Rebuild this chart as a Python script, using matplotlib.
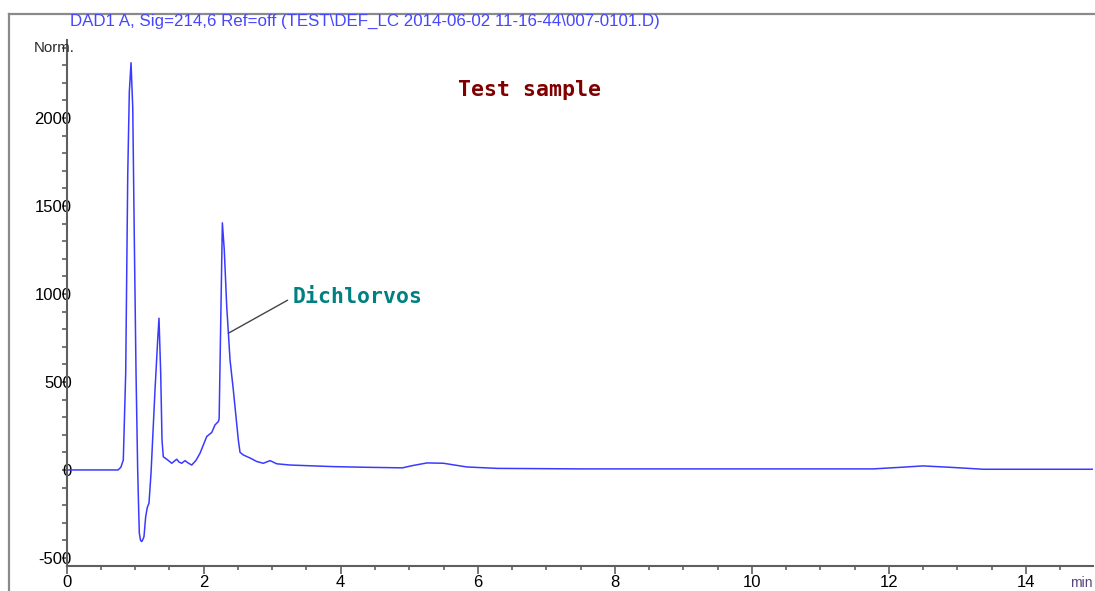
"""
plot.py - chromatogramme DAD1 A (Test sample, Dichlorvos)
Usage : python plot.py
"""

import matplotlib
matplotlib.use("Agg")
import matplotlib.pyplot as plt
from matplotlib.lines import Line2D
from matplotlib.ticker import MultipleLocator

# Couleurs
TRACE   = "#3a3aff"
TITLE   = "#4646ff"
SPINE   = "#5f5f5f"
FRAME   = "#8a8a8a"
RED     = "#800000"
TEAL    = "#008080"
UNIT    = "#5a4478"

# Temps de rétention (min) et signal (mAU)
temps = [0.0, 0.75, 0.79, 0.826, 0.861, 0.891, 0.914, 0.939, 0.964, 0.987,
         1.012, 1.036, 1.048, 1.060, 1.078, 1.095, 1.112, 1.128, 1.153, 1.177,
         1.201, 1.231, 1.289, 1.328, 1.347, 1.372, 1.391, 1.410, 1.464, 1.533,
         1.606, 1.639, 1.679, 1.727, 1.771, 1.825, 1.888, 1.946, 2.044, 2.117,
         2.165, 2.213, 2.225, 2.272, 2.300, 2.336, 2.360, 2.384, 2.432, 2.505,
         2.530, 2.578, 2.676, 2.774, 2.870, 2.968, 3.066, 3.26, 3.89, 4.40,
         4.90, 5.05, 5.26, 5.50, 5.84, 6.28, 7.5, 9.0, 10.7, 11.77, 12.17,
         12.50, 12.90, 13.38, 14.2, 14.98]
signal = [0, 0, 15, 56, 548, 1678, 2147, 2314, 2060, 1307,
          550, 0, -190, -360, -400, -407, -395, -379, -265, -212,
          -189, -17, 455, 739, 862, 551, 170, 75, 60, 38,
          61, 45, 38, 53, 40, 28, 55, 95, 190, 213,
          256, 275, 290, 1404, 1250, 927, 777, 625, 455, 170,
          100, 85, 68, 48, 38, 53, 35, 28, 19, 15,
          12, 25, 40, 38, 17, 9, 6, 6, 6, 6, 15,
          23, 15, 4, 4, 4]

x_ticks = [0, 2, 4, 6, 8, 10, 12, 14]
y_ticks = [-500, 0, 500, 1000, 1500, 2000]

titre = "DAD1 A, Sig=214,6 Ref=off (TEST\\DEF_LC 2014-06-02 11-16-44\\007-0101.D)"

plt.rcParams.update({
    "font.family": ["Liberation Sans", "DejaVu Sans"],
    "figure.facecolor": "white",
    "axes.facecolor": "none",
    "axes.unicode_minus": False,
})

W, H = 1095, 591
fig = plt.figure(figsize=(W / 100, H / 100), dpi=100)

# Cadre gris autour du graphe
fx, fy = 9 / W, 1 - 14 / H
fig.add_artist(Line2D([fx, fx], [-0.05, fy], transform=fig.transFigure,
                      color=FRAME, lw=1.6, clip_on=False))
fig.add_artist(Line2D([fx, 1.05], [fy, fy], transform=fig.transFigure,
                      color=FRAME, lw=1.6, clip_on=False))

left, right = 66.7 / W, 1093 / W
bottom, top = 1 - 565.7 / H, 1 - 40 / H
ax = fig.add_axes([left, bottom, right - left, top - bottom])

ax.plot(temps, signal, color=TRACE, lw=1.1, zorder=3)

ax.set_xlim(0, 14.98)
ax.set_ylim(-544, 2443)
ax.set_xticks(x_ticks)
ax.set_yticks(y_ticks)
ax.xaxis.set_minor_locator(MultipleLocator(0.5))
ax.yaxis.set_minor_locator(MultipleLocator(100))

for s in ["top", "right"]:
    ax.spines[s].set_visible(False)
for s in ["left", "bottom"]:
    ax.spines[s].set_color(SPINE)
    ax.spines[s].set_linewidth(1.5)

ax.tick_params(axis="x", which="major", direction="out", length=5.8, width=1.2,
               color=SPINE, labelsize=12, pad=1)
ax.tick_params(axis="x", which="minor", direction="out", length=2.9, width=1.2,
               color=SPINE)
ax.tick_params(axis="y", which="both", direction="out", length=3.6, width=1.2,
               color=SPINE)
ax.tick_params(axis="y", which="major", labelsize=12, pad=-7.2)
for lab in ax.get_yticklabels():
    lab.set_zorder(5)

# Textes
fig.text(70 / W, 1 - 21 / H, titre, color=TITLE, fontsize=12.2,
         ha="left", va="center")
fig.text(34 / W, 1 - 48 / H, "Norm.", color="#2a2a2a", fontsize=10.8,
         ha="left", va="center")
fig.text(1070 / W, 1 - 583 / H, "min", color=UNIT, fontsize=10,
         ha="left", va="center")

ax.text(6.76, 2159, "Test sample", color=RED, fontsize=15.5,
        family="DejaVu Sans Mono", fontweight="bold", ha="center", va="center")
ax.annotate("Dichlorvos", xy=(2.36, 777), xytext=(3.30, 981),
            color=TEAL, fontsize=15.5, family="DejaVu Sans Mono", fontweight="bold",
            ha="left", va="center",
            arrowprops=dict(arrowstyle="-", color="#444444", lw=1.0,
                            shrinkA=2, shrinkB=0, relpos=(0, 0.5)))

fig.savefig("out.png", dpi=100)
plt.close(fig)
